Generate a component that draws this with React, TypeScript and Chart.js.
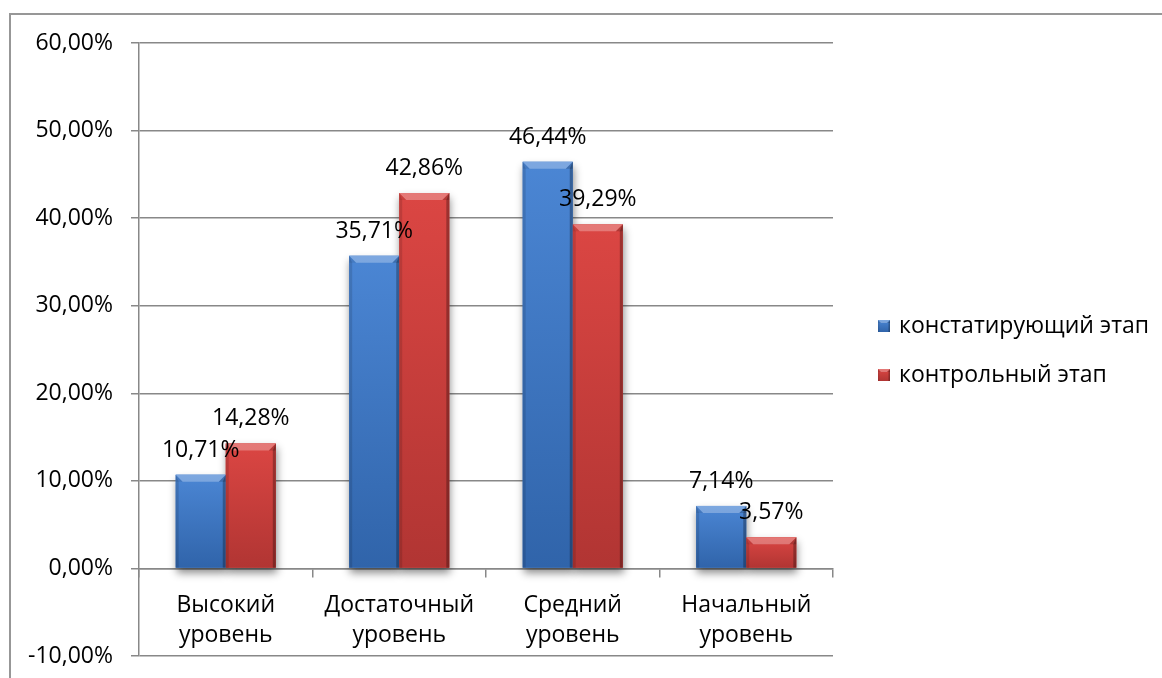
import React, { useEffect, useRef } from "react";
import { Chart, registerables } from "chart.js";

Chart.register(...registerables);

// Categories (two-line axis labels)
const categories: string[][] = [
  ["Высокий", "уровень"],
  ["Достаточный", "уровень"],
  ["Средний", "уровень"],
  ["Начальный", "уровень"],
];

const seriesNames = ["констатирующий этап", "контрольный этап"];

// Percent values per level
const ascertainingValues = [10.71, 35.71, 46.44, 7.14];
const controlValues = [14.28, 42.86, 39.29, 3.57];

// Value axis
const yMin = -10;
const yMax = 60;
const yStep = 10;

const FONT = '"Open Sans", "Noto Sans", sans-serif';
const FONT_SIZE = 23;
const GRID = "#888888";

const palettes = [
  { top: "#4b86d4", bottom: "#3064aa", base: "#4079c4" },
  { top: "#db4643", bottom: "#b13533", base: "#cc403e" },
];

const fmt = (v: number) => v.toFixed(2).replace(".", ",") + "%";

// Bevelled, shaded rectangle in the style of office chart bars
function shadeRect(
  ctx: CanvasRenderingContext2D,
  l: number,
  t: number,
  r: number,
  b: number,
  pal: { top: string; bottom: string },
  bevel: number,
  edge: number
) {
  const w = r - l;
  const h = b - t;
  if (w <= 0 || h <= 0) return;
  const d = Math.min(bevel, w / 2, h / 2);
  const g = ctx.createLinearGradient(0, t, 0, b);
  g.addColorStop(0, pal.top);
  g.addColorStop(1, pal.bottom);
  ctx.fillStyle = g;
  ctx.fillRect(l, t, w, h);

  const poly = (pts: number[][], color: string) => {
    ctx.beginPath();
    ctx.moveTo(pts[0][0], pts[0][1]);
    for (let i = 1; i < pts.length; i++) ctx.lineTo(pts[i][0], pts[i][1]);
    ctx.closePath();
    ctx.fillStyle = color;
    ctx.fill();
  };
  // side edges
  const e = Math.min(edge, w / 4);
  poly([[l, t], [l + e, t + d], [l + e, b], [l, b]], "rgba(0,0,0,0.12)");
  poly([[r, t], [r, b], [r - e, b], [r - e, t + d]], "rgba(0,0,0,0.28)");
  // top facet
  poly([[l, t], [r, t], [r - d, t + d], [l + d, t + d]], "rgba(255,255,255,0.28)");
  // small shaded corners of the top facet
  poly([[l, t], [l + d, t + d], [l, t + d]], "rgba(0,0,0,0.08)");
  poly([[r, t], [r, t + d], [r - d, t + d]], "rgba(0,0,0,0.18)");
}

const framePlugin = {
  id: "frame",
  beforeDraw(chart: any) {
    const ctx = chart.ctx as CanvasRenderingContext2D;
    ctx.save();
    ctx.strokeStyle = "#979797";
    ctx.lineWidth = 2;
    ctx.beginPath();
    ctx.moveTo(10, chart.height);
    ctx.lineTo(10, 14);
    ctx.lineTo(chart.width, 14);
    ctx.stroke();
    ctx.restore();
  },
};

const barStylePlugin = {
  id: "barStyle",
  beforeDatasetsDraw(chart: any) {
    const ctx = chart.ctx as CanvasRenderingContext2D;
    ctx.save();
    ctx.shadowColor = "rgba(0,0,0,0.45)";
    ctx.shadowBlur = 8;
    ctx.shadowOffsetX = 1;
    ctx.shadowOffsetY = 5;
  },
  afterDatasetsDraw(chart: any) {
    const ctx = chart.ctx as CanvasRenderingContext2D;
    ctx.restore();
    ctx.save();
    chart.data.datasets.forEach((ds: any, di: number) => {
      const meta = chart.getDatasetMeta(di);
      meta.data.forEach((el: any) => {
        const { x, y, base, width } = el.getProps(["x", "y", "base", "width"], true);
        shadeRect(ctx, x - width / 2, Math.min(y, base), x + width / 2, Math.max(y, base), palettes[di], 7, 3);
      });
    });
    // value labels
    ctx.fillStyle = "#000";
    ctx.font = `${FONT_SIZE}px ${FONT}`;
    ctx.textAlign = "center";
    ctx.textBaseline = "alphabetic";
    chart.data.datasets.forEach((ds: any, di: number) => {
      const meta = chart.getDatasetMeta(di);
      meta.data.forEach((el: any, i: number) => {
        const { x, y } = el.getProps(["x", "y"], true);
        ctx.fillText(fmt(ds.data[i]), x, y - 18);
      });
    });
    ctx.restore();
  },
};

const legendPlugin = {
  id: "sideLegend",
  afterDraw(chart: any) {
    const ctx = chart.ctx as CanvasRenderingContext2D;
    const boxX = 878;
    const rows = [326, 375];
    ctx.save();
    chart.data.datasets.forEach((ds: any, di: number) => {
      const cy = rows[di];
      shadeRect(ctx, boxX, cy - 6, boxX + 12, cy + 6, palettes[di], 3, 1.5);
      ctx.fillStyle = "#000";
      ctx.font = `${FONT_SIZE}px ${FONT}`;
      ctx.textAlign = "left";
      ctx.textBaseline = "middle";
      ctx.fillText(ds.label, boxX + 21, cy);
    });
    ctx.restore();
  },
};

export default function App() {
  const canvasRef = useRef<HTMLCanvasElement>(null);

  useEffect(() => {
    if (!canvasRef.current) return;
    const chart = new Chart(canvasRef.current, {
      type: "bar",
      data: {
        labels: categories,
        datasets: [
          { label: seriesNames[0], data: ascertainingValues, backgroundColor: palettes[0].base },
          { label: seriesNames[1], data: controlValues, backgroundColor: palettes[1].base },
        ],
      },
      options: {
        animation: false,
        responsive: false,
        devicePixelRatio: 1,
        layout: { padding: { left: 0, top: 43, right: 329, bottom: 22 } },
        categoryPercentage: 0.577,
        barPercentage: 1,
        plugins: {
          legend: { display: false },
          tooltip: { enabled: false },
        },
        scales: {
          x: {
            position: { y: 0 },
            grid: {
              display: true,
              drawOnChartArea: false,
              drawTicks: true,
              tickLength: 8,
              color: GRID,
              lineWidth: 1.5,
              offset: true,
            },
            border: { display: true, color: GRID, width: 1.5 },
            ticks: {
              font: { family: FONT, size: FONT_SIZE, lineHeight: 1.3 },
              color: "#000",
              padding: 14,
              maxRotation: 0,
            },
          },
          y: {
            min: yMin,
            max: yMax,
            ticks: {
              stepSize: yStep,
              callback: (v: any) => fmt(Number(v)),
              font: { family: FONT, size: FONT_SIZE },
              color: "#000",
              padding: 18,
            },
            grid: { color: GRID, lineWidth: 1.5, tickLength: 8 },
            border: { display: true, color: GRID, width: 1.5 },
            afterFit: (s: any) => {
              s.width = 139;
              s.paddingTop = 0;
              s.paddingBottom = 0;
            },
          },
        },
      } as any,
      plugins: [framePlugin, barStylePlugin, legendPlugin],
    });
    return () => chart.destroy();
  }, []);

  return (
    <div style={{ position: "absolute", left: 0, top: 0, width: 1162, height: 678, background: "#fff" }}>
      <canvas ref={canvasRef} width={1162} height={678} style={{ display: "block" }} />
    </div>
  );
}
